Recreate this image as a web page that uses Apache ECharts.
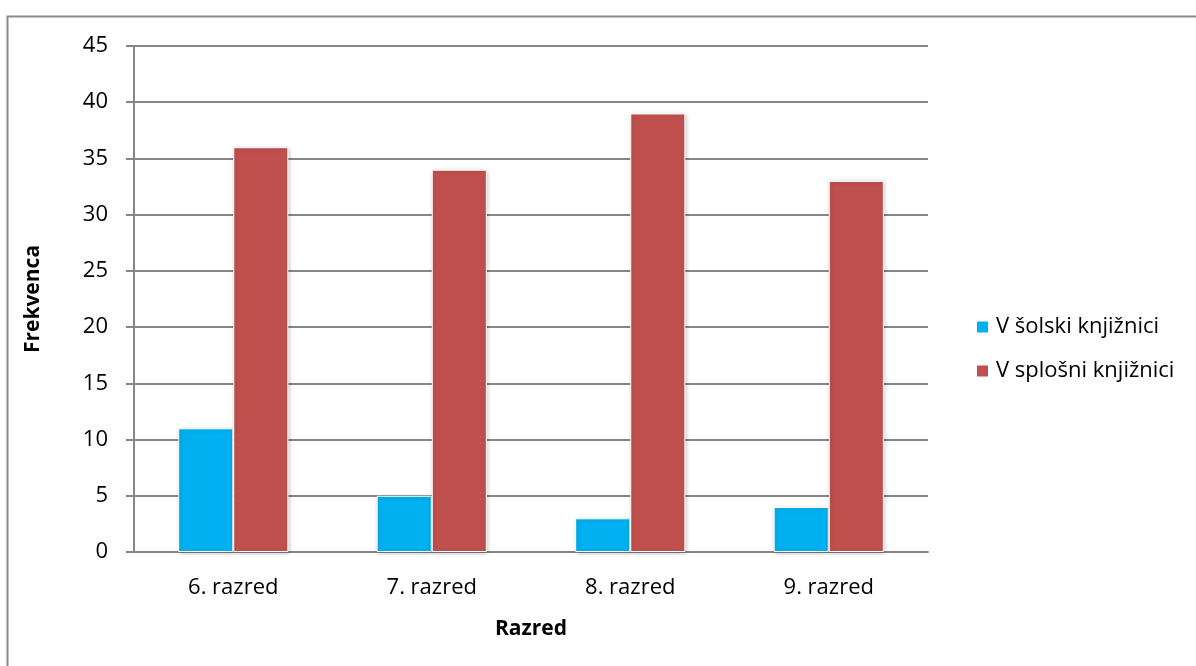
<!DOCTYPE html>
<html><head><meta charset="utf-8">
<script src="https://cdn.jsdelivr.net/npm/echarts@6/dist/echarts.min.js"></script>
<style>html,body{margin:0;padding:0;background:#fff}#c{width:1196px;height:666px}</style>
</head><body><div id="c"></div>
<script>
var categories = ['6. razred', '7. razred', '8. razred', '9. razred'];
var solska = [11, 5, 3, 4];
var splosna = [36, 34, 39, 33];
var seriesNames = ['V šolski knjižnici', 'V splošni knjižnici'];
var FONT = '"Open Sans", "Noto Sans", sans-serif';
var chart = echarts.init(document.getElementById('c'));
chart.setOption({
  animation: false,
  graphic: [{type: 'rect', shape: {x: 7.5, y: 16.5, width: 1300, height: 800}, style: {fill: 'none', stroke: '#8c8c8c', lineWidth: 2}, z: -1}],
  grid: {left: 134, top: 46, width: 794, height: 506},
  legend: {
    orient: 'vertical', left: 970, top: 311, itemWidth: 13, itemHeight: 13, itemGap: 22,
    icon: 'rect',
    textStyle: {fontFamily: FONT, fontSize: 22, color: '#000', padding: [0,0,0,2]},
    data: seriesNames
  },
  xAxis: {
    type: 'category', data: categories,
    name: 'Razred', nameLocation: 'middle', nameGap: 67,
    nameTextStyle: {fontFamily: FONT, fontSize: 21, fontWeight: 'bold', color: '#000'},
    axisLine: {lineStyle: {color: '#868686', width: 2}},
    axisTick: {show: false},
    axisLabel: {fontFamily: FONT, fontSize: 22, color: '#000', margin: 25}
  },
  yAxis: {
    type: 'value', min: 0, max: 45, interval: 5,
    name: 'Frekvenca', nameLocation: 'middle', nameGap: 90, nameRotate: 90,
    nameTextStyle: {fontFamily: FONT, fontSize: 21, fontWeight: 'bold', color: '#000'},
    axisLine: {show: true, lineStyle: {color: '#868686', width: 2}},
    axisTick: {show: true, length: 8, lineStyle: {color: '#868686', width: 2}},
    splitLine: {lineStyle: {color: '#868686', width: 2}},
    axisLabel: {fontFamily: FONT, fontSize: 22, color: '#000', margin: 26}
  },
  series: [
    {name: seriesNames[0], type: 'bar', data: solska, barGap: '0%', barCategoryGap: '44.5%',
     itemStyle: {color: '#00B0F0', borderColor: '#fff', borderWidth: 1, shadowColor: 'rgba(0,0,0,0.22)', shadowBlur: 4, shadowOffsetX: 1, shadowOffsetY: 1}},
    {name: seriesNames[1], type: 'bar', data: splosna,
     itemStyle: {color: '#C0504D', borderColor: '#fff', borderWidth: 1, shadowColor: 'rgba(0,0,0,0.22)', shadowBlur: 4, shadowOffsetX: 1, shadowOffsetY: 1}}
  ]
});
</script></body></html>
